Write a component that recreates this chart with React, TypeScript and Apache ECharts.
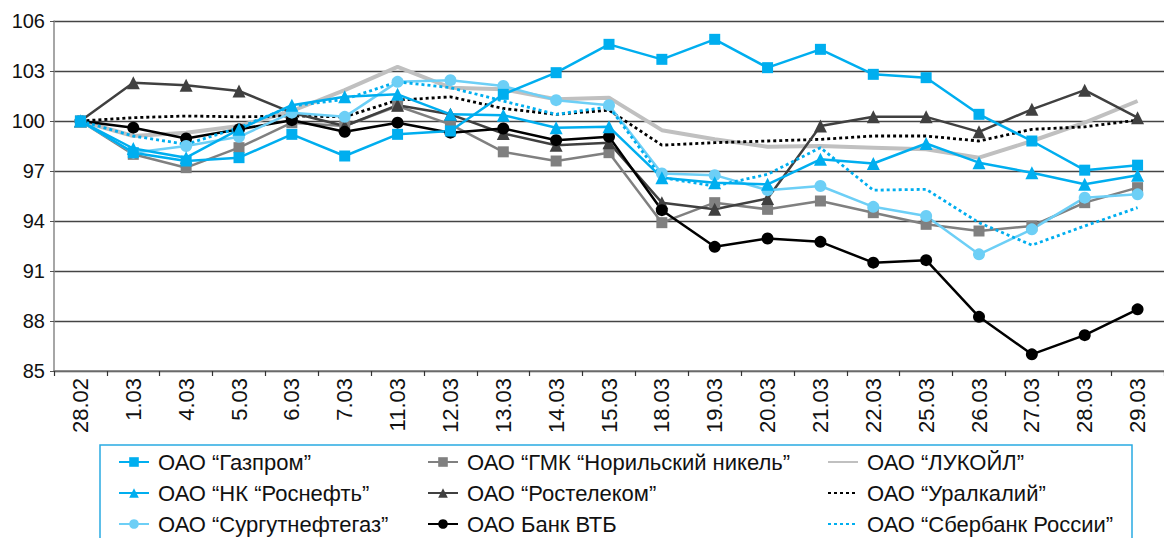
import React, { useEffect, useRef } from "react";
import * as echarts from "echarts";

const categories = ["28.02","1.03","4.03","5.03","6.03","7.03","11.03","12.03","13.03","14.03","15.03","18.03","19.03","20.03","21.03","22.03","25.03","26.03","27.03","28.03","29.03"];

const gazprom = [100,98.1,97.6,97.8,99.2,97.9,99.2,99.4,101.6,102.9,104.6,103.7,104.9,103.2,104.3,102.8,102.6,100.4,98.8,97.05,97.35];
const gmk = [100,98.0,97.2,98.4,99.9,99.7,100.9,99.8,98.15,97.6,98.1,93.9,95.1,94.7,95.2,94.5,93.8,93.4,93.7,95.1,96.0];
const lukoil = [100,99.1,99.3,99.7,100.6,101.85,103.25,102.0,101.9,101.3,101.4,99.45,98.9,98.45,98.5,98.4,98.3,97.8,98.8,99.9,101.2];
const rosneft = [100,98.35,97.8,99.5,100.95,101.45,101.6,100.4,100.35,99.6,99.65,96.6,96.3,96.2,97.7,97.45,98.65,97.5,96.9,96.2,96.75];
const rostelecom = [100,102.3,102.15,101.8,100.5,99.7,100.95,100.4,99.25,98.55,98.7,95.1,94.7,95.35,99.7,100.25,100.25,99.35,100.7,101.85,100.2];
const uralkali = [100,100.2,100.3,100.25,100.3,100.25,101.25,101.45,100.75,100.4,100.65,98.55,98.7,98.8,98.9,99.1,99.1,98.8,99.5,99.65,100.05];
const surgut = [100,98.1,98.5,99.05,100.5,100.25,102.35,102.45,102.1,101.25,100.95,96.85,96.75,95.85,96.1,94.85,94.3,92.0,93.5,95.4,95.6];
const vtb = [100,99.6,98.95,99.5,100.05,99.35,99.9,99.3,99.55,98.85,99.05,94.65,92.45,92.95,92.75,91.5,91.65,88.25,86.0,87.15,88.7];
const sberbank = [100,99.1,98.6,99.6,100.9,101.3,102.35,102.0,101.2,100.4,100.85,96.6,96.1,96.8,98.4,95.85,95.9,93.9,92.55,93.7,94.8];

const yTicks = { min: 85, max: 106, interval: 3 };

const N = {
  gazprom: "ОАО “Газпром”",
  gmk: "ОАО “ГМК “Норильский никель”",
  lukoil: "ОАО “ЛУКОЙЛ”",
  rosneft: "ОАО “НК “Роснефть”",
  rostelecom: "ОАО “Ростелеком”",
  uralkali: "ОАО “Уралкалий”",
  surgut: "ОАО “Сургутнефтегаз”",
  vtb: "ОАО Банк ВТБ",
  sberbank: "ОАО “Сбербанк России”",
};

const FONT = "Liberation Sans, Arial, sans-serif";

function marked(name: string, data: number[], color: string, symbol: string, size: number, width = 2.5) {
  return {
    name, type: "line", data, symbol, symbolSize: size, showSymbol: true,
    lineStyle: { color, width }, itemStyle: { color },
  };
}
function plain(name: string, data: number[], color: string, width: number, dotted: boolean) {
  return {
    name, type: "line", data, symbol: "none", showSymbol: false,
    lineStyle: { color, width, type: dotted ? [3, 3] : "solid", cap: "butt" },
    itemStyle: { color: "rgba(0,0,0,0)" },
  };
}

export default function App() {
  const ref = useRef<HTMLDivElement>(null);
  useEffect(() => {
    const chart = echarts.init(ref.current!, null, { renderer: "svg" });
    const legendBase = {
      orient: "vertical",
      top: 451,
      height: 110,
      padding: 0,
      itemWidth: 30,
      itemHeight: 12,
      itemGap: 9,
      selectedMode: false,
      textStyle: { fontSize: 22, fontFamily: FONT, color: "#111", lineHeight: 22, padding: [0, 0, 0, 4] },
    };
    chart.setOption({
      animation: false,
      backgroundColor: "#fff",
      textStyle: { fontFamily: FONT },
      grid: { left: 54, top: 21, right: -12.5, bottom: 167, containLabel: false },
      graphic: [
        { type: "rect", shape: { x: 100, y: 445, width: 1032, height: 120 }, style: { fill: "none", stroke: "#29abe2", lineWidth: 1.5 }, z: 0 },
      ],
      legend: [
        { ...legendBase, left: 118, data: [N.gazprom, N.rosneft, N.surgut] },
        { ...legendBase, left: 427, data: [N.gmk, N.rostelecom, N.vtb] },
        { ...legendBase, left: 827, data: [N.lukoil, N.uralkali, N.sberbank] },
      ],
      xAxis: {
        type: "category",
        data: categories,
        boundaryGap: true,
        axisLine: { lineStyle: { color: "#777", width: 1.5 } },
        axisTick: { show: true, length: 5, lineStyle: { color: "#333", width: 1.2 } },
        axisLabel: { rotate: 90, fontSize: 22, color: "#111", fontFamily: FONT, margin: 7, interval: 0 },
        splitLine: { show: false },
      },
      yAxis: {
        type: "value",
        min: yTicks.min, max: yTicks.max, interval: yTicks.interval,
        axisLine: { show: true, lineStyle: { color: "#888", width: 1.5 } },
        axisTick: { show: true, length: 4, lineStyle: { color: "#555" } },
        axisLabel: { fontSize: 20, color: "#111", fontFamily: FONT, margin: 9 },
        splitLine: { show: true, lineStyle: { color: "#444", width: 1.4 } },
      },
      series: [
        plain(N.lukoil, lukoil, "#c0c0c0", 4, false),
        plain(N.uralkali, uralkali, "#000000", 2.8, true),
        marked(N.gmk, gmk, "#808080", "rect", 11),
        marked(N.rostelecom, rostelecom, "#404040", "triangle", 13),
        marked(N.vtb, vtb, "#000000", "circle", 12),
        marked(N.surgut, surgut, "#6dcff6", "circle", 12),
        marked(N.rosneft, rosneft, "#00aeef", "triangle", 13),
        marked(N.gazprom, gazprom, "#00aeef", "rect", 11),
        plain(N.sberbank, sberbank, "#00aeef", 2.8, true),
      ],
    });
    return () => chart.dispose();
  }, []);
  return (
    <div
      ref={ref}
      style={{ position: "absolute", left: 0, top: 0, width: 1164, height: 538, overflow: "hidden" }}
    />
  );
}
